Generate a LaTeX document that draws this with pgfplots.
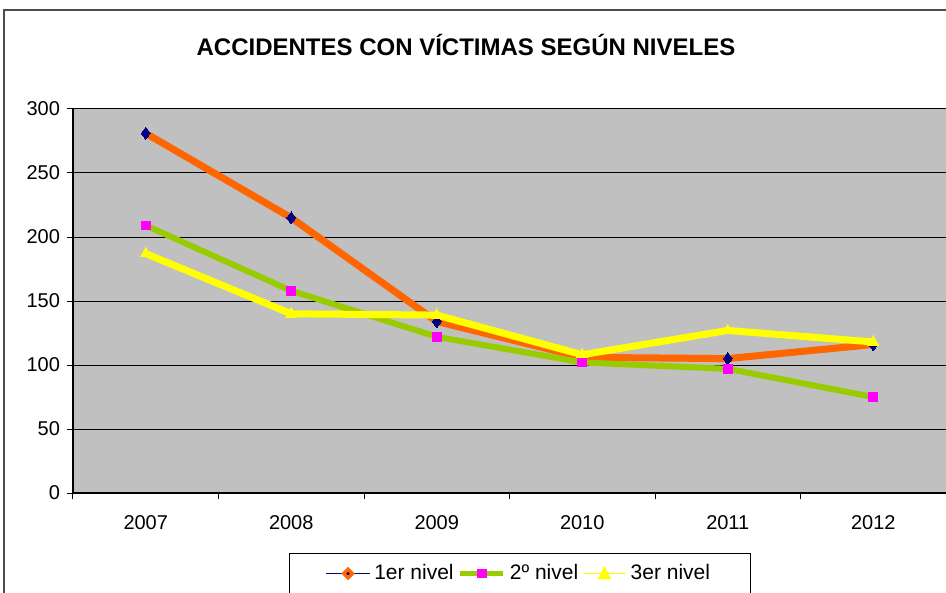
\documentclass[border=0pt]{standalone}
\usepackage{fontspec}
\setmainfont{Liberation Sans}
\usepackage{pgfplots}
\pgfplotsset{compat=1.18}
\definecolor{orng}{HTML}{FF6600}
\definecolor{grn}{HTML}{99CC00}
\definecolor{yel}{HTML}{FFFF00}
\definecolor{navy}{HTML}{000080}
\definecolor{mag}{HTML}{FF00FF}
\definecolor{plotbg}{HTML}{C0C0C0}
\begin{document}
\begin{tikzpicture}
\useasboundingbox (0,0) rectangle (473pt,-296.5pt);
\draw[line width=1pt, black!70] (2pt,-300pt) -- (2pt,-5pt) -- (480pt,-5pt);
\node[font=\bfseries\fontsize{12}{14}\selectfont] at (233pt,-22.5pt) {ACCIDENTES CON VÍCTIMAS SEGÚN NIVELES};
\begin{axis}[
  at={(36.5pt,-54.5pt)}, anchor=north west,
  scale only axis, width=436.5pt, height=192pt,
  xmin=-0.5, xmax=5.5, ymin=0, ymax=300,
  xtick={0,1,2,3,4,5}, xticklabels={2007,2008,2009,2010,2011,2012},
  minor xtick={-0.5,0.5,1.5,2.5,3.5,4.5,5.5},
  ytick={0,50,100,150,200,250,300},
  xtick pos=bottom, ytick pos=left,
  tick align=outside,
  major tick length=3pt, minor tick length=3pt,
  major x tick style={draw=none},
  tick style={black, line width=0.5pt},
  axis lines*=left,
  axis line style={black, line width=0.6pt},
  ymajorgrids, grid style={black, line width=0.5pt},
  axis background/.style={fill=plotbg},
  tick label style={font=\fontsize{10}{12}\selectfont},
  /pgf/number format/assume math mode=true,
  xticklabel style={yshift=-4.5pt},
  legend columns=3,
  legend style={at={(0.512,-0.156)}, anchor=north, draw=black, line width=0.5pt,
    font=\fontsize{10.5}{12.5}\selectfont, inner ysep=3.5pt, inner xsep=18pt,
    /tikz/every odd column/.append style={column sep=0pt},
    /tikz/every even column/.append style={column sep=0pt}},
  legend cell align=left,
]
\addplot[forget plot, orng, line width=3.5pt, mark=diamond*, mark options={navy, fill=navy, line width=0pt, mark size=3pt}]
  coordinates {(0,281) (1,215) (2,134) (3,106) (4,105) (5,116)};
\addplot[forget plot, grn, line width=3pt, mark=square*, mark options={mag, fill=mag, line width=0pt, mark size=2.2pt}]
  coordinates {(0,209) (1,158) (2,122) (3,102) (4,97) (5,75)};
\addplot[forget plot, yel, line width=3.5pt, mark=triangle*, mark options={yel, fill=yel, line width=0pt, mark size=3.2pt}]
  coordinates {(0,187) (1,140) (2,139) (3,108) (4,127) (5,118)};
\addlegendimage{legend image code/.code={
  \draw[navy, line width=0.6pt] (0cm,0cm) -- (0.76cm,0cm);
  \fill[orng] (0.38cm,-3pt) -- (0.38cm+3pt,0pt) -- (0.38cm,3pt) -- (0.38cm-3pt,0pt) -- cycle;
  \fill[navy] (0.38cm,0cm) circle (0.5pt);}}
\addlegendentry{1er nivel}
\addlegendimage{legend image code/.code={
  \draw[grn, line width=2.5pt] (0cm,0cm) -- (0.76cm,0cm);
  \fill[mag] (0.38cm-2.2pt,-2.2pt) rectangle (0.38cm+2.2pt,2.2pt);}}
\addlegendentry{2º nivel}
\addlegendimage{legend image code/.code={
  \draw[yel, line width=0.6pt] (0cm,0cm) -- (0.76cm,0cm);
  \fill[yel] (0.38cm-3pt,-2.5pt) -- (0.38cm+3pt,-2.5pt) -- (0.38cm,3.2pt) -- cycle;}}
\addlegendentry{3er nivel}
\end{axis}
\end{tikzpicture}
\end{document}
